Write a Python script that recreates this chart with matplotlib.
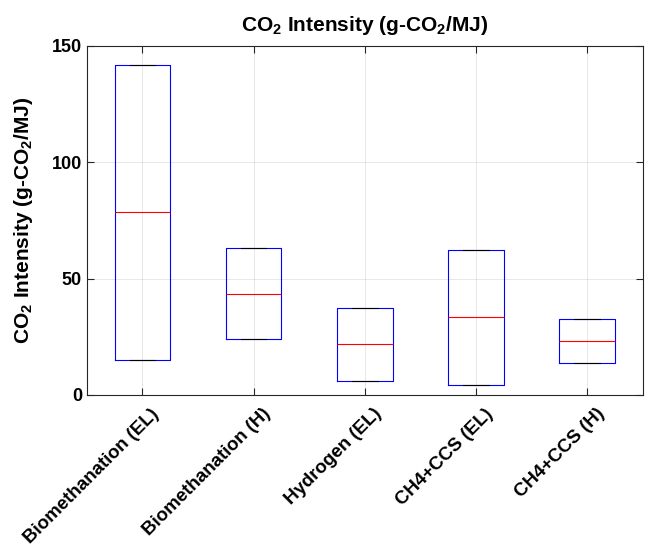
import matplotlib.pyplot as plt
import matplotlib.transforms as mtransforms
import numpy as np

plt.rcParams['font.family'] = ['Liberation Sans', 'DejaVu Sans']
plt.rcParams['font.weight'] = 'bold'
plt.rcParams['mathtext.fontset'] = 'custom'
plt.rcParams['mathtext.bf'] = 'Liberation Sans:bold'
plt.rcParams['mathtext.rm'] = 'Liberation Sans:bold'

# Data
labels = ['Biomethanation (EL)', 'Biomethanation (H)', 'Hydrogen (EL)',
          'CH4+CCS (EL)', 'CH4+CCS (H)']
low = [15.2, 24.2, 6.2, 4.5, 13.6]
q1 = [15.2, 24.2, 6.2, 4.5, 13.6]
median = [78.5, 43.5, 21.8, 33.5, 23.2]
q3 = [142.0, 63.0, 37.5, 62.5, 32.8]
high = [142.0, 63.0, 37.5, 62.5, 32.8]

stats = [dict(whislo=a, q1=b, med=c, q3=d, whishi=e, fliers=[])
         for a, b, c, d, e in zip(low, q1, median, q3, high)]

fig = plt.figure(figsize=(6.48, 5.46), dpi=100)
ax = fig.add_axes([0.134, 0.2766, 0.858, 0.6392])

pos = np.arange(1, len(labels) + 1)
ax.bxp(stats, positions=pos, widths=0.5, showfliers=False,
       boxprops=dict(color='blue', linewidth=0.8),
       medianprops=dict(color='red', linewidth=0.8),
       whiskerprops=dict(color='black', linewidth=0.8, linestyle='--'),
       capprops=dict(color='black', linewidth=0.8),
       capwidths=0.23)

ax.set_xlim(0.5, 5.5)
ax.set_ylim(0, 150)
ax.set_yticks([0, 50, 100, 150])
ax.set_xticks(pos)
ax.tick_params(axis='y', labelsize=13)
ax.tick_params(direction='in', top=True, right=True, length=5, color='#262626')
ax.set_xticklabels(labels, rotation=45, ha='right', rotation_mode='anchor',
                   fontsize=13.5, fontweight='bold')
# nudge rotated labels like MATLAB places them
shift = mtransforms.ScaledTranslation(6 / 72, -4 / 72, fig.dpi_scale_trans)
for lab in ax.get_xticklabels():
    lab.set_transform(lab.get_transform() + shift)
for s in ax.spines.values():
    s.set_color('#262626')
    s.set_linewidth(0.8)
ax.grid(True, color='#262626', alpha=0.12, linewidth=0.6)
ax.set_axisbelow(True)

ax.set_ylabel(r'CO$_\mathbf{2}$ Intensity (g-CO$_\mathbf{2}$/MJ)', fontsize=15,
              fontweight='bold', labelpad=12)
ax.set_title(r'CO$_\mathbf{2}$ Intensity (g-CO$_\mathbf{2}$/MJ)', fontsize=15,
             fontweight='bold', pad=11)

fig.savefig('out.png', dpi=100)
